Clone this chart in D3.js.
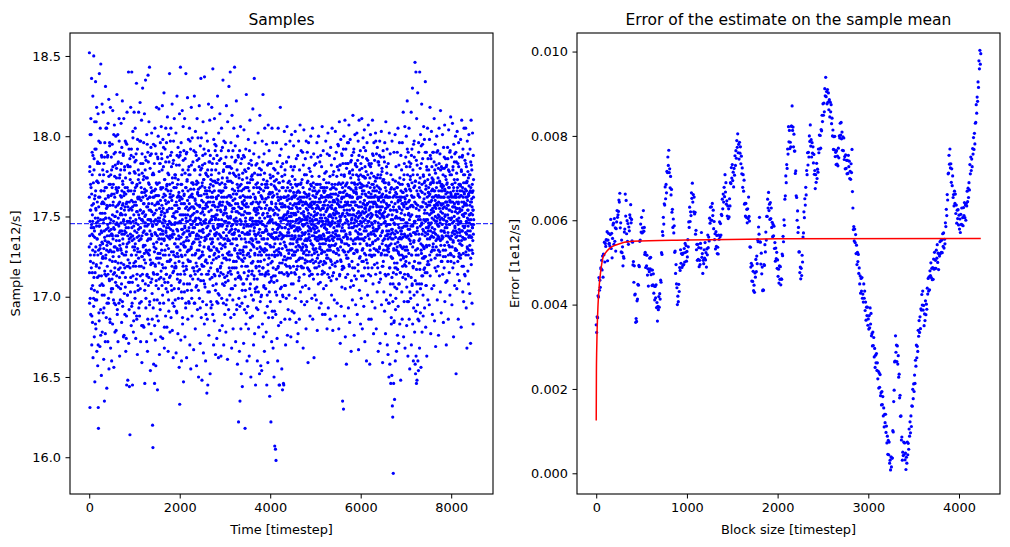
<!DOCTYPE html>
<html>
<head>
<meta charset="utf-8">
<script src="https://cdn.jsdelivr.net/npm/d3@7"></script>
<style>
body{margin:0;background:#fff}
svg{font-family:"DejaVu Sans",sans-serif}
</style>
</head>
<body>
<svg width="1010" height="547"></svg>
<script>
/* left panel: samples, stored as (value - 15) * 100
   samples at timesteps 0,4,8,...  samplesMid at timesteps 2,6,10,... */
const sampleStep = 4
const samples = [
231,352,196,278,131,301,254,222,189,311,268,243,205,336,170,257,290,215,184,247,325,162,238,271,199,
350,212,286,175,241,309,147,263,228,198,334,255,180,292,219,246,318,166,272,236,203,283,157,249,314,
131,118,262,297,213,185,339,244,276,169,230,305,252,192,345,221,266,151,288,240,208,320,178,259,233,
272,224,190,315,246,161,283,258,201,135,237,296,214,268,177,331,249,226,290,187,255,305,143,232,278,
219,287,245,172,308,263,196,234,323,155,270,241,210,294,186,257,229,318,168,276,248,203,287,239,160,
264,211,295,238,183,316,257,225,270,198,243,156,289,231,307,215,262,178,250,282,222,195,300,245,268,
235,280,207,326,253,189,266,229,301,172,245,284,217,258,196,311,240,274,163,232,290,218,251,205,279,
246,308,221,262,184,293,239,215,322,257,194,270,233,288,175,248,311,226,265,202,279,241,189,256,297,
212,274,166,296,243,228,188,145,259,315,233,201,282,148,247,266,219,340,171,254,292,236,144,277,209,
114,281,249,203,318,237,266,182,292,226,340,254,196,271,145,238,303,213,259,178,287,244,221,315,190,
257,231,284,199,305,268,222,174,246,289,211,333,253,186,270,237,164,298,228,261,204,279,242,315,193,
276,219,261,188,297,243,321,205,254,172,283,236,268,197,310,225,159,289,248,214,330,262,182,240,273,
232,296,181,258,223,314,267,146,244,279,208,335,251,193,285,229,266,172,301,239,214,274,166,256,290,
338,245,207,271,183,309,254,226,343,197,262,236,288,154,248,220,293,177,265,239,302,211,258,186,276,
120,244,106,277,215,295,158,262,231,198,283,146,252,305,220,173,267,239,157,289,210,254,318,234,188,
263,198,142,287,247,224,300,185,258,236,317,211,271,164,249,283,227,192,296,242,175,268,216,306,253,
229,286,207,253,319,241,174,298,262,218,281,196,244,327,235,168,273,250,209,292,226,263,188,305,240,
267,214,296,238,181,270,253,312,203,245,277,166,259,230,301,191,284,247,222,339,236,178,264,213,288,
242,305,187,262,228,290,204,255,320,179,271,239,215,283,162,250,297,226,268,194,311,245,218,276,233,
198,274,246,219,302,165,259,282,231,190,325,253,211,270,241,177,293,225,263,205,287,236,156,255,314,
133,247,288,210,343,262,173,237,296,226,160,270,251,199,316,242,183,279,221,306,258,147,234,291,216,
264,203,311,244,175,286,231,255,193,339,268,219,247,162,290,237,273,208,324,251,186,266,229,298,241,
222,281,196,258,305,239,170,276,248,213,292,155,263,230,318,204,271,245,188,299,233,262,211,284,247,
270,234,167,291,252,216,325,243,196,279,260,180,303,227,249,206,288,238,157,272,219,311,253,192,265,
245,299,211,267,150,238,286,224,319,199,257,232,276,171,294,248,210,336,263,187,241,280,220,148,269,
228,282,197,255,309,240,165,273,219,292,251,183,337,235,268,206,289,246,160,277,223,302,258,195,264,
140,262,186,297,238,145,275,214,259,320,231,176,284,246,203,266,310,229,152,288,241,218,273,193,254,
276,221,318,250,195,283,234,262,342,207,269,243,170,298,226,257,185,311,239,272,213,291,248,164,279,
239,294,208,261,230,174,288,251,217,325,243,196,273,256,162,302,228,266,201,285,245,179,314,233,257,
254,219,286,163,265,237,305,199,271,244,182,293,226,259,335,214,278,240,170,297,252,207,283,236,189,
268,231,296,209,255,178,287,242,319,223,262,198,274,250,161,309,236,281,215,246,192,272,331,228,258,
235,277,201,263,340,226,249,187,296,257,214,280,168,242,313,233,271,205,255,291,180,264,239,222,305,
248,189,276,343,230,261,207,294,242,172,285,253,218,322,236,264,195,279,247,158,300,225,268,212,287,
122,256,199,274,238,166,291,229,135,262,212,306,245,180,270,152,251,223,286,196,259,144,240,277,208,
263,226,288,171,243,304,215,257,192,279,236,118,268,204,249,292,183,231,326,258,211,274,160,245,219,
240,194,268,227,298,180,252,216,283,163,239,271,205,310,248,187,262,229,150,285,244,201,275,233,258,
221,276,188,247,317,232,198,264,170,289,241,213,336,255,177,227,296,205,261,145,238,282,219,251,193,
255,206,283,234,160,271,245,192,302,226,258,181,240,287,216,268,152,249,313,231,197,276,222,157,263,
230,279,201,154,262,240,297,183,251,218,326,245,175,273,236,207,289,228,166,259,305,244,190,270,214,
205,261,242,178,295,226,145,270,233,194,282,250,159,216,307,239,187,264,224,291,203,255,138,247,276,
248,197,274,231,122,283,210,259,172,237,305,222,265,187,242,296,168,254,213,280,236,150,269,228,191,
107,233,279,213,105,256,189,98,267,237,296,201,245,174,284,226,160,262,218,305,243,182,271,230,145,
266,215,145,288,240,197,318,227,261,184,249,292,206,236,155,275,221,258,142,283,238,200,268,146,250,
145,262,234,303,207,257,186,279,243,220,170,295,231,262,199,284,249,215,306,238,176,268,224,253,192,
263,214,287,240,201,272,229,255,186,297,244,218,266,233,175,281,250,208,301,238,262,191,275,226,247,
236,279,208,252,294,226,263,190,244,281,215,258,237,303,199,270,228,251,184,286,242,217,265,234,172,
255,219,288,241,177,266,232,297,210,258,243,186,279,224,262,307,236,203,270,248,219,291,197,259,230,
218,273,245,206,290,233,259,168,282,227,251,304,214,265,239,195,276,248,223,286,207,259,236,180,297,
276,231,262,197,248,290,218,254,272,159,241,226,296,263,205,280,237,213,267,249,188,278,222,256,300,
242,287,214,257,233,199,275,248,223,305,186,263,230,271,211,289,245,162,258,227,282,240,201,266,251,
259,222,283,237,270,198,251,228,296,243,179,265,214,287,235,256,208,300,246,221,275,193,261,233,284,
231,270,209,254,288,238,196,263,227,281,249,214,306,233,189,268,247,220,291,255,205,273,238,265,215,
268,236,277,189,245,262,221,297,253,207,278,242,224,268,180,289,236,255,214,302,247,193,263,229,271,
246,212,288,259,231,275,186,251,223,293,264,210,246,282,201,257,238,305,220,268,249,179,276,235,260,
215,278,243,260,198,286,232,251,270,219,303,239,188,264,227,290,253,211,275,241,196,281,230,258,295,
260,229,294,245,180,271,238,309,256,214,282,247,171,265,223,298,250,194,276,235,261,206,288,243,219,
135,252,283,219,265,130,241,300,228,275,188,257,233,310,246,175,269,212,292,239,263,158,280,224,254,
271,237,296,214,259,283,228,193,268,245,307,220,251,277,184,263,239,298,206,257,274,230,166,285,248,
243,288,222,262,198,279,251,313,235,266,207,254,292,227,176,271,244,218,301,259,233,283,195,250,267,
265,211,276,247,302,229,189,261,285,240,220,297,256,167,273,236,310,250,204,279,242,268,225,291,183,
252,283,236,199,270,246,311,222,264,180,287,249,230,299,213,258,275,194,266,241,304,227,255,172,281,
237,264,291,210,253,278,223,160,269,244,296,232,258,201,285,247,218,307,239,271,186,254,282,226,262,
158,274,229,256,301,213,262,240,186,283,250,225,270,197,245,310,233,266,208,288,241,177,259,296,230,
268,220,285,247,193,263,238,302,214,274,251,180,289,229,256,269,203,293,242,218,276,236,166,260,284,
244,282,209,265,230,297,252,171,274,238,211,287,256,226,303,195,263,240,278,219,250,159,272,235,291,
222,260,287,203,249,271,236,191,296,246,214,268,177,255,309,232,263,198,281,241,226,292,170,257,239,
256,164,283,230,196,271,150,245,302,218,262,158,237,289,208,254,146,276,233,187,268,242,151,297,224,
132,240,125,273,208,90,256,146,229,290,185,263,136,245,218,301,160,272,237,199,281,250,214,166,264,
268,221,290,176,249,234,305,194,260,227,171,282,243,208,296,255,183,237,270,215,262,148,288,231,252,
241,279,203,258,186,296,230,265,212,248,315,224,175,273,256,197,283,239,220,306,168,261,244,211,287,
219,266,300,231,182,255,244,322,197,276,238,163,290,251,213,269,227,305,186,260,242,155,281,235,273,
250,199,283,238,315,170,263,226,292,207,257,330,183,244,276,218,160,295,234,262,201,287,246,178,269,
346,158,272,152,229,340,163,255,146,311,208,148,282,243,195,327,160,264,226,154,296,239,185,271,250,
168,340,217,274,244,190,301,256,156,229,283,208,320,246,178,265,232,295,213,259,188,276,241,306,224,
261,225,298,193,254,272,215,334,240,181,267,248,207,290,231,163,279,252,220,305,239,198,286,243,265,
246,279,220,263,195,298,236,257,318,213,270,241,177,286,252,228,303,260,205,274,243,189,267,290,231,
273,233,290,253,207,266,311,240,185,279,256,224,295,247,169,263,235,282,216,258,300,226,271,198,249,
257,291,219,244,280,176,263,237,305,250,213,272,228,289,246,203,316,258,232,269,190,281,241,262,222,
236,268,301,214,255,276,229,184,293,248,262,218,280,240,307,197,266,251,225,286,209,259,273,170,245,
282,247,210,271,257,293,222,262,238,186,279,304,232,254,215,268,245,290,201,276,259,227,312,236,264,
263,226,287,249,195,270,240,308,256,218,281,234,266,175,295,247,221,273,258,207,289,243,263,230,300,
241,290,152,262,229,277,205,255,303,238,268,214,283,247,186,259,296,225,270,242,210,287,253,233,266,
270,224,298,246,263,181,279,235,310,254,219,287,241,268,203,292,251,227,276,197,259,305,236,264,214,
252,285,213,267,240,305,226,258,193,281,246,271,168,262,297,230,254,216,289,244,274,208,263,301,238,
229,276,251,202,292,238,266,171,284,248,310,220,259,237,279,196,265,243,302,227,254,183,288,262,245
]
const samplesMid = [
262,215,238,281,247,199,226,270,254,233,301,218,245,264,188,239,276,251,207,229,288,243,221,258,194,
243,279,226,204,261,237,292,215,249,183,266,231,254,309,220,244,198,272,236,259,212,284,226,247,170,
271,229,256,190,244,218,283,239,262,207,232,296,248,176,227,266,241,213,258,287,234,201,252,224,279,
225,259,207,248,276,230,193,266,241,287,216,252,235,172,261,224,249,305,213,242,268,229,257,196,238,
256,234,288,214,243,262,199,228,275,249,211,238,296,223,257,184,246,270,233,216,263,242,205,279,228,
239,268,222,251,205,281,236,259,214,247,301,228,264,196,242,275,218,250,231,290,209,256,238,179,267,
274,213,246,265,230,192,257,238,283,221,249,206,268,244,225,297,235,212,259,276,241,198,263,230,252,
229,255,283,208,241,266,227,251,197,272,236,258,215,289,247,220,263,176,239,254,281,218,245,268,206,
251,226,264,240,174,258,231,295,219,247,268,201,238,256,223,281,243,209,266,234,192,259,247,221,286,
218,273,239,255,212,246,288,226,260,194,243,271,235,209,256,231,299,247,219,264,185,251,236,278,229,
266,241,203,277,233,259,219,248,285,226,257,188,269,240,214,253,292,230,262,207,245,273,224,251,238,
235,262,249,196,271,228,254,213,243,297,236,260,219,248,182,265,238,277,225,252,210,283,247,231,258,
253,218,275,241,227,265,204,250,232,287,246,221,263,199,239,274,228,256,213,244,295,235,261,186,248,
227,284,236,258,212,248,270,229,195,262,241,280,223,254,236,209,268,247,289,221,253,238,202,266,244,
245,221,262,193,251,233,276,214,247,266,228,182,257,240,294,219,248,263,230,207,271,245,224,258,214,
270,238,214,259,286,227,249,205,263,242,221,278,236,255,196,247,283,224,260,239,212,267,251,233,289,
236,257,279,220,246,201,268,239,255,226,293,248,211,264,236,181,252,273,229,247,260,218,284,241,205,
258,214,243,269,232,254,222,287,245,209,266,237,259,198,276,243,226,255,212,270,238,262,223,297,246,
223,266,238,207,281,245,260,219,237,274,250,196,241,263,228,285,216,252,239,205,268,233,257,246,221,
249,276,225,253,218,268,236,191,257,242,288,227,262,214,246,231,273,199,255,238,265,222,282,209,260,
262,229,251,290,214,246,270,233,258,203,242,276,225,261,248,187,266,239,219,285,251,232,208,263,240,
231,258,214,243,277,226,251,268,196,249,235,289,217,256,241,272,228,204,260,247,223,279,254,235,197,
276,243,229,262,208,255,238,297,222,250,267,213,245,231,282,256,199,240,264,226,251,218,271,243,256,
240,218,267,234,255,196,279,247,226,261,214,248,290,236,258,221,245,270,207,253,239,285,229,264,216,
257,271,236,204,249,263,229,281,241,217,256,234,268,193,246,279,225,252,237,299,214,260,245,226,271,
219,253,288,242,226,259,210,247,273,231,264,246,208,283,237,255,222,266,248,189,257,236,276,214,243,
266,238,221,256,279,203,244,262,230,291,216,253,239,268,225,247,284,211,259,236,270,197,248,262,229,
233,279,248,212,265,236,257,189,272,244,223,259,286,231,250,214,266,242,227,295,238,256,204,249,271,
251,224,262,240,197,283,229,254,271,216,245,236,202,263,248,225,277,239,258,213,244,270,233,259,218,
238,266,215,253,291,230,248,262,221,257,274,208,245,232,266,251,196,279,236,224,262,247,283,212,254,
270,233,256,224,247,268,195,252,238,281,213,259,244,227,272,235,258,210,249,291,226,263,240,218,246,
223,257,281,241,216,250,272,233,262,205,244,226,287,253,239,218,267,245,198,260,236,277,222,255,239,
255,218,240,266,229,284,247,211,258,236,275,249,222,264,192,245,232,270,253,227,258,215,288,241,266,
241,276,224,252,213,238,269,194,248,262,227,255,283,211,247,236,266,219,255,240,204,273,229,258,222,
228,251,267,208,245,231,260,287,224,253,239,200,262,247,219,278,234,256,190,244,268,226,252,239,271,
262,239,213,256,280,227,244,216,266,234,291,252,225,241,262,208,249,273,236,258,221,245,282,214,236,
216,249,273,235,222,259,198,245,268,231,254,211,243,277,239,226,262,247,203,253,236,270,218,245,259,
247,268,230,211,254,239,276,222,252,203,247,265,234,256,219,280,242,228,259,214,246,238,267,226,200,
255,226,247,270,236,214,261,245,229,284,218,252,240,266,206,236,259,223,277,249,230,213,255,241,268,
233,261,215,244,229,257,241,272,201,252,236,268,220,246,262,214,239,283,226,254,247,209,265,232,250,
264,238,255,221,247,270,212,239,258,226,248,191,262,237,254,275,218,246,231,263,209,251,240,272,226,
225,252,236,268,203,246,258,217,240,273,229,255,210,264,242,226,251,277,236,219,260,245,228,254,238,
249,271,221,244,258,233,205,262,247,226,281,239,256,215,243,268,230,249,201,256,237,272,223,248,262,
238,214,262,251,225,276,243,232,256,207,248,266,223,251,238,284,219,245,260,229,252,240,213,271,247,
256,242,227,261,238,250,219,266,245,233,258,224,247,270,236,252,215,243,261,229,255,238,268,226,244,
233,257,244,219,265,236,251,228,262,241,226,273,238,252,214,247,263,231,256,222,248,269,235,243,258,
248,229,261,253,236,270,223,246,238,259,212,249,265,231,255,242,224,260,247,236,271,219,252,238,229,
262,240,224,248,257,231,268,244,218,253,239,262,228,250,276,235,245,221,258,240,232,264,249,226,255,
229,258,246,235,271,222,250,263,236,244,257,217,252,239,264,228,256,243,216,261,247,235,258,270,241,
251,233,269,245,226,259,238,214,255,247,266,232,243,259,221,250,238,268,229,253,242,218,262,236,248,
244,262,230,255,240,218,264,248,235,257,224,252,270,237,246,226,259,241,255,219,266,238,247,230,259,
236,249,259,222,251,268,237,244,262,229,247,236,255,216,262,245,228,257,239,266,233,251,222,259,243,
257,228,243,266,233,249,221,260,247,235,271,242,226,254,240,263,229,248,257,224,245,262,237,250,232,
240,263,235,251,218,256,244,229,267,238,250,222,262,245,232,255,270,236,247,213,259,240,264,228,252,
228,251,268,237,254,232,259,246,221,264,241,255,233,249,267,227,252,238,261,244,222,258,236,270,247,
263,238,252,279,226,257,244,265,213,250,236,282,248,231,259,270,222,256,241,289,234,262,217,251,268,
245,271,229,256,292,237,262,218,254,276,241,228,266,250,205,259,283,238,257,226,270,248,233,264,252,
258,236,283,247,224,263,251,296,232,257,243,268,219,254,278,240,262,229,251,284,236,267,246,210,259,
271,249,230,262,255,218,276,243,259,233,290,251,227,265,246,259,213,270,248,236,282,257,241,268,229,
236,264,257,281,244,228,252,270,237,262,249,216,275,253,239,288,245,262,224,256,271,233,259,247,276,
262,251,239,268,213,256,280,244,229,266,253,275,236,258,222,269,247,293,235,252,260,218,274,243,257,
248,274,255,226,263,241,257,286,233,250,269,221,258,244,276,238,262,251,214,265,247,283,236,259,244,
255,232,268,249,281,226,252,264,239,277,246,259,218,262,251,289,234,256,243,270,226,258,275,239,262,
241,266,226,259,247,272,235,258,297,242,253,229,266,241,257,221,274,250,262,236,284,246,228,261,253,
268,243,256,288,231,262,249,215,267,254,238,276,245,259,227,262,251,280,233,256,241,264,219,252,273,
250,229,273,246,259,236,284,253,226,262,247,271,238,255,213,266,244,258,229,277,250,238,262,245,231,
236,262,214,251,228,270,241,196,257,232,265,218,245,254,201,239,267,225,248,183,259,236,212,251,242,
224,248,197,262,236,215,254,230,184,246,267,221,239,206,258,233,249,192,265,241,218,254,229,262,205,
253,231,268,240,217,259,245,228,271,236,208,256,243,262,226,249,274,232,215,260,241,223,266,248,236,
239,262,226,254,270,243,219,258,237,265,248,225,257,231,276,244,262,214,251,238,259,229,267,246,222,
258,225,281,237,206,263,246,292,229,255,214,270,242,259,197,252,236,284,221,248,267,203,256,239,275,
233,266,244,212,257,288,226,251,271,208,245,262,231,279,219,256,240,193,268,235,297,247,222,259,240,
247,210,272,239,191,258,226,285,217,250,266,203,241,276,230,257,186,263,248,221,290,235,254,208,268,
262,236,221,280,248,205,266,233,256,294,227,245,213,270,239,256,224,286,242,201,259,275,231,248,217,
230,271,252,218,264,238,290,247,225,258,207,269,243,232,281,256,215,262,236,248,273,222,257,241,265,
268,244,259,232,276,251,226,264,245,288,237,259,271,223,254,246,266,238,281,249,229,262,255,240,272,
253,271,237,262,248,284,229,257,242,266,218,260,250,277,239,255,263,231,268,247,290,236,258,245,226,
262,238,274,251,229,259,266,244,283,236,255,271,226,248,262,235,279,253,241,266,222,257,249,270,238,
245,266,252,280,237,258,225,269,248,262,241,287,256,232,267,250,243,275,229,259,264,238,281,247,255,
270,243,259,234,265,251,286,240,257,226,268,249,262,237,278,245,231,260,254,291,236,265,248,222,259,
249,276,238,262,253,231,270,246,259,279,235,256,241,268,225,262,250,284,239,256,244,271,229,253,264,
262,237,255,284,229,259,248,266,240,273,252,222,264,245,258,235,281,249,227,262,255,240,270,246,233,
238,269,247,226,263,254,278,241,259,232,266,251,288,237,256,244,262,219,271,250,236,265,243,258,276,
257,244,271,236,252,283,228,262,247,266,239,257,272,231,249,260,241,278,254,226,264,248,237,269,251,
246,265,232,257,276,241,259,224,268,252,237,282,245,261,229,256,270,243,251,235,266,254,239,273,248
]
const sampleMean = 17.455
const timeTicks = [0, 2000, 4000, 6000, 8000]
const sampleTicks = [16.0, 16.5, 17.0, 17.5, 18.0, 18.5]

/* right panel: error of the mean per block size, in units of 1e-5, one every 5 timesteps */
const blockStep = 5
const blockErrors = [
352,334,371,369,421,418,464,434,458,441,487,484,505,482,515,465,520,518,548,501,
545,538,554,553,573,504,553,569,544,545,539,566,602,533,569,511,557,589,593,543,
604,550,582,527,580,596,623,607,613,621,648,643,664,582,594,525,553,523,537,492,
514,510,572,579,662,610,647,568,599,550,592,543,584,575,613,606,637,594,602,551,
548,494,502,453,492,423,425,358,367,360,409,413,448,446,493,490,550,553,591,572,
607,570,582,572,623,574,583,519,524,488,518,492,517,470,485,444,484,478,510,485,
512,471,482,445,482,447,473,427,444,411,443,416,447,393,405,361,396,388,419,394,
426,413,458,453,523,519,573,564,607,591,639,636,679,651,685,665,716,713,750,730,
766,713,722,677,704,660,673,619,626,583,603,570,587,524,527,474,495,449,440,400,
420,407,448,431,488,481,530,498,521,488,519,493,522,495,533,501,545,524,540,503,
526,513,554,537,596,583,631,597,620,611,665,652,688,643,661,620,655,615,619,567,
576,530,543,505,543,507,535,490,505,495,545,534,571,512,521,474,505,497,530,510,
547,506,523,489,532,518,565,535,560,551,605,593,631,600,632,600,640,611,624,580,
597,554,568,532,573,538,564,521,536,520,565,555,596,561,592,565,614,611,650,627,
662,643,678,656,708,667,689,638,646,610,634,604,627,608,651,634,689,687,725,700,
732,694,714,679,723,707,753,730,765,747,789,773,805,760,780,745,785,759,774,734,
752,710,724,678,708,669,695,638,640,610,640,607,626,594,627,604,655,609,598,537,
536,489,498,456,493,455,479,433,446,429,475,465,507,478,515,497,554,549,584,567,
607,549,548,496,522,473,489,433,435,434,495,493,542,525,572,553,609,609,650,629,
666,623,638,602,642,604,629,583,595,561,590,563,586,533,547,503,534,509,524,486,
506,467,484,451,492,460,490,447,461,460,520,516,562,549,601,588,650,658,705,689,
732,723,769,757,822,786,813,770,785,774,823,823,871,813,821,774,804,764,764,711,
717,658,654,600,622,571,583,525,525,476,489,461,486,469,517,501,560,570,620,606,
651,636,678,660,718,708,760,731,761,750,800,787,826,776,791,750,784,759,774,736,
756,709,718,675,708,690,735,699,721,714,769,760,802,769,801,771,815,812,849,834,
876,849,878,857,912,895,939,893,905,876,910,880,902,862,886,845,880,857,874,829,
842,800,814,768,798,767,799,751,761,732,765,733,752,729,771,748,800,795,830,802,
832,793,809,766,798,765,795,744,751,722,755,723,742,710,742,711,754,727,740,699,
716,697,734,713,768,668,629,578,585,551,579,547,566,521,541,495,524,502,519,474,
487,449,468,427,462,432,464,415,425,406,449,415,432,386,406,363,394,374,394,351,
366,342,374,345,392,354,379,326,331,302,335,303,322,276,296,251,280,262,284,244,
262,224,242,202,238,204,234,184,191,162,194,163,182,136,155,110,140,120,140,97,
112,72,88,45,78,44,74,24,31,8,39,15,36,36,101,98,170,197,264,266,
326,287,304,265,302,259,279,228,235,179,185,135,136,79,86,31,50,42,74,44,
72,32,48,9,38,24,74,44,71,57,105,88,122,96,136,111,160,159,199,177,
212,194,233,213,268,254,304,274,301,289,339,325,362,334,371,343,390,387,424,399,
432,387,398,350,378,362,409,376,401,389,439,425,462,432,466,435,480,469,499,464,
486,459,488,460,508,484,524,486,505,486,529,510,542,500,522,483,520,515,549,521,
552,524,553,523,568,538,570,534,555,544,594,585,626,611,661,648,710,712,754,733,
769,724,734,690,722,682,705,654,661,634,669,640,662,616,636,593,624,604,625,589,
612,579,603,571,614,590,629,589,606,587,630,611,642,606,636,600,640,634,669,644,
676,654,689,672,732,710,750,718,745,727,770,757,796,768,806,781,830,832,874,854,
892,882,928,915,978,959,1003,970,995
]
const fitBlocks = [0, 2, 5, 10, 20, 35, 50, 75, 100, 150, 225, 400, 1000, 2000, 4240]
const fitErrors = [0.00125, 0.0024, 0.0029, 0.0034, 0.0040, 0.0045, 0.0048, 0.00512, 0.00522, 0.00534, 0.00542, 0.0055, 0.00553, 0.00556, 0.00557]
const blockTicks = [0, 1000, 2000, 3000, 4000]
const errorTicks = [0, 0.002, 0.004, 0.006, 0.008, 0.010]

let svg = d3.select('svg')
const tickFont = '12.9px', titleFont = '15.5px'

const L = {x0: 70, x1: 493, y0: 33, y1: 494}
const R = {x0: 577, x1: 1000, y0: 33, y1: 494}

let xTime = d3.scaleLinear().domain([-425, 8924]).range([L.x0, L.x1])
let ySample = d3.scaleLinear().domain([15.771, 18.643]).range([L.y1, L.y0])
let xBlock = d3.scaleLinear().domain([-212, 4452]).range([R.x0, R.x1])
let yError = d3.scaleLinear().domain([-0.000491, 0.01044]).range([R.y1, R.y0])

function drawAxes(box, x, y, xTicks, yTicks, yFmt, title, xLabel, yLabel, yLabelX) {
  let gx = svg.append('g').attr('transform', `translate(0,${box.y1})`)
    .call(d3.axisBottom(x).tickValues(xTicks).tickFormat(d3.format('d')).tickSize(4.5).tickPadding(4.5).tickSizeOuter(0))
  let gy = svg.append('g').attr('transform', `translate(${box.x0},0)`)
    .call(d3.axisLeft(y).tickValues(yTicks).tickFormat(yFmt).tickSize(4.5).tickPadding(4.5).tickSizeOuter(0))
  for (const g of [gx, gy]) {
    g.select('.domain').remove()
    g.selectAll('text').attr('font-size', tickFont).attr('fill', '#000').attr('font-family', '"DejaVu Sans",sans-serif')
    g.selectAll('line').attr('stroke', '#000').attr('stroke-width', 1)
  }
  svg.append('rect').attr('x', box.x0).attr('y', box.y0)
    .attr('width', box.x1 - box.x0).attr('height', box.y1 - box.y0)
    .attr('fill', 'none').attr('stroke', '#000').attr('stroke-width', 1.1)
  svg.append('text').attr('x', (box.x0 + box.x1) / 2).attr('y', box.y0 - 8)
    .attr('text-anchor', 'middle').attr('font-size', titleFont).text(title)
  svg.append('text').attr('x', (box.x0 + box.x1) / 2).attr('y', 534)
    .attr('text-anchor', 'middle').attr('font-size', tickFont).text(xLabel)
  svg.append('text').attr('transform', `translate(${yLabelX},${(box.y0 + box.y1) / 2}) rotate(-90)`)
    .attr('text-anchor', 'middle').attr('font-size', tickFont).text(yLabel)
}

/* Samples */
let sampleDots = svg.append('g').attr('fill', '#0000ff')
sampleDots.selectAll('circle.a')
  .data(samples)
  .enter().append('circle').attr('class', 'a')
  .attr('cx', (d, i) => xTime(i * sampleStep))
  .attr('cy', d => ySample(15 + d / 100))
  .attr('r', 1.6)
sampleDots.selectAll('circle.b')
  .data(samplesMid)
  .enter().append('circle').attr('class', 'b')
  .attr('cx', (d, i) => xTime(i * sampleStep + sampleStep / 2))
  .attr('cy', d => ySample(15 + d / 100))
  .attr('r', 1.6)

svg.append('line')
  .attr('x1', L.x0).attr('x2', L.x1)
  .attr('y1', ySample(sampleMean)).attr('y2', ySample(sampleMean))
  .attr('stroke', '#0000ff').attr('stroke-width', 1)
  .attr('stroke-dasharray', '5,2')

drawAxes(L, xTime, ySample, timeTicks, sampleTicks, d3.format('.1f'),
  'Samples', 'Time [timestep]', 'Sample [1e12/s]', 20)

/* Error of the mean */
svg.append('g').attr('fill', '#0000ff').selectAll('circle')
  .data(blockErrors)
  .enter().append('circle')
  .attr('cx', (d, i) => xBlock(i * blockStep))
  .attr('cy', d => yError(d / 1e5))
  .attr('r', 1.6)

let fitLine = d3.line()
  .x((d, i) => xBlock(fitBlocks[i]))
  .y(d => yError(d))
  .curve(d3.curveMonotoneX)
svg.append('path').attr('d', fitLine(fitErrors))
  .attr('fill', 'none').attr('stroke', '#ff0000').attr('stroke-width', 1.5)

drawAxes(R, xBlock, yError, blockTicks, errorTicks, d3.format('.3f'),
  'Error of the estimate on the sample mean', 'Block size [timestep]', 'Error [1e12/s]', 519)
</script>
</body>
</html>
